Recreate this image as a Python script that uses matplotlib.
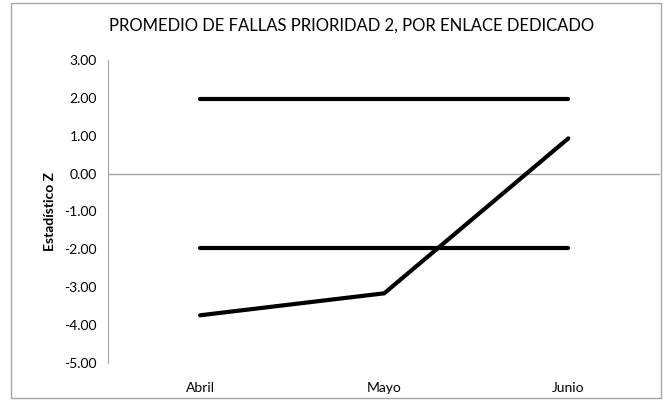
import matplotlib
matplotlib.use("Agg")
import matplotlib.pyplot as plt
from matplotlib.patches import Rectangle

# Datos
meses = ["Abril", "Mayo", "Junio"]
z_observado = [-3.74, -3.16, 0.93]
limite_superior = [1.96, 1.96, 1.96]
limite_inferior = [-1.96, -1.96, -1.96]
y_ticks = [3, 2, 1, 0, -1, -2, -3, -4, -5]

plt.rcParams['font.family'] = ['Lato', 'DejaVu Sans']

fig = plt.figure(figsize=(6.63, 4.0), dpi=100)
ax = fig.add_axes([0.163, 0.0925, 0.833, 0.7575])

x = range(len(meses))
for serie in (limite_superior, limite_inferior, z_observado):
    ax.plot(x, serie, color='black', linewidth=3.0, solid_capstyle='round',
            solid_joinstyle='miter')

# eje horizontal en cero
ax.axhline(0, color='#a6a6a6', linewidth=1.0, zorder=0)

ax.set_xlim(-0.5, len(meses) - 0.5)
ax.set_ylim(-5, 3)
ax.set_xticks(list(x))
ax.set_xticklabels(meses, fontsize=10)
ax.set_yticks(y_ticks)
ax.set_yticklabels(["%.2f" % v for v in y_ticks], fontsize=10)
ax.tick_params(axis='both', length=0, pad=8, colors='black')
ax.tick_params(axis='x', pad=14)

for s in ('top', 'right', 'bottom'):
    ax.spines[s].set_visible(False)
ax.spines['left'].set_color('#a6a6a6')

ax.set_ylabel("Estadístico Z", fontsize=10, fontweight='bold', labelpad=6)
fig.text(0.53, 0.935, "PROMEDIO DE FALLAS PRIORIDAD 2, POR ENLACE DEDICADO",
         ha='center', va='center', fontsize=12)

# borde del grafico
fig.patches.append(Rectangle((0.017, 0.005), 0.98, 0.988, transform=fig.transFigure,
                             fill=False, edgecolor='#a6a6a6', linewidth=1.0))

fig.savefig("out.png", dpi=100)
